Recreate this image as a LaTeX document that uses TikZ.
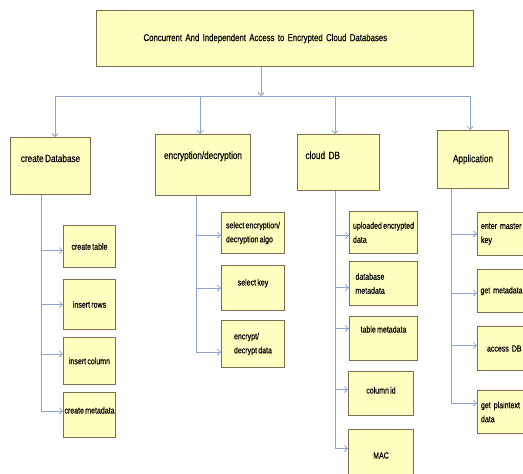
\documentclass[tikz,border=0pt]{standalone}
\usepackage{fontspec}
\usetikzlibrary{arrows.meta}

\newfontfamily\letra[FakeStretch=0.78,FakeBold=0.3,WordSpace=0.65]{Liberation Sans}
\newcommand\letraTitulo{\letra\fontsize{10}{12}\selectfont}
\newcommand\letraCabecera{\letra\fontsize{10.5}{12}\selectfont}
\newcommand\letraHijo{\letra\fontsize{9}{14}\selectfont}

\definecolor{fondoCaja}{RGB}{255,255,192}
\definecolor{bordeCaja}{RGB}{128,108,78}
\definecolor{lineaAzul}{RGB}{140,165,205}

\tikzset{
  caja/.style={draw=bordeCaja, fill=fondoCaja, line width=1pt, anchor=north west,
    inner xsep=3pt, inner ysep=2pt, font=\letraHijo, align=center},
  cabecera/.style={caja, font=\letraCabecera},
  subir/.style={text height=6pt, text depth=#1},
  conector/.style={draw=lineaAzul, line width=0.8pt},
  flecha/.style={conector, -{Straight Barb[length=3pt,width=6pt]}}
}

\begin{document}
\begin{tikzpicture}[x=1pt,y=-1pt]
  \useasboundingbox (0,0) rectangle (523,474);
  \clip (0,0) rectangle (523,474);

  % titulo
  \node[caja, font=\letraTitulo, minimum width=377pt, minimum height=56pt, text width=283pt, align=left] (titulo) at (96,10) {Concurrent And Independent Access to Encrypted Cloud Databases};

  % segundo nivel
  \node[cabecera, minimum width=80pt, minimum height=57pt, subir=14pt] (createDatabase) at (10,137) {create Database};
  \node[cabecera, minimum width=95pt, minimum height=61pt, subir=18pt] (encryptionDecryption) at (155,134) {encryption/decryption};
  \node[cabecera, minimum width=82pt, minimum height=56pt, text width=66pt, align=left, subir=13pt] (cloudDB) at (297,134) {cloud DB};
  \node[cabecera, minimum width=71pt, minimum height=58pt] (application) at (437,130) {Application};

  % create Database
  \node[caja, minimum width=52pt, minimum height=42pt] (createTable) at (63,225) {create table};
  \node[caja, minimum width=52pt, minimum height=50pt] (insertRows) at (63,279) {insert rows};
  \node[caja, minimum width=52pt, minimum height=47pt] (insertColumn) at (63,337) {insert column};
  \node[caja, minimum width=52pt, minimum height=45pt, inner xsep=0pt, subir=9pt] (createMetadata) at (63,392) {create metadata};

  % encryption/decryption
  \node[caja, minimum width=63pt, minimum height=41pt, align=left] (selectAlgo) at (221,212) {select encryption/\\decryption algo};
  \node[caja, minimum width=63pt, minimum height=45pt, subir=11pt] (selectKey) at (221,265) {select key};
  \node[caja, minimum width=63pt, minimum height=47pt, align=left] (encryptDecrypt) at (221,320) {encrypt/\\decrypt data};

  % cloud DB
  \node[caja, minimum width=68pt, minimum height=42pt, align=left] (uploadedData) at (349,211) {uploaded encrypted\\data};
  \node[caja, minimum width=68pt, minimum height=44pt, text width=56pt, align=left] (databaseMetadata) at (349,261) {database\\metadata};
  \node[caja, minimum width=68pt, minimum height=44pt, subir=18pt] (tableMetadata) at (349,316) {table metadata};
  \node[caja, minimum width=65pt, minimum height=44pt, subir=6pt] (columnId) at (348,371) {column id};
  \node[caja, minimum width=65pt, minimum height=52pt] (mac) at (348,429) {MAC};

  % Application
  \node[caja, minimum width=60pt, minimum height=43pt, text width=53pt, align=left] (enterKey) at (477,212) {enter master\\key};
  \node[caja, minimum width=60pt, minimum height=43pt, text width=54pt, align=left] (getMetadata) at (477,269) {get metadata};
  \node[caja, minimum width=60pt, minimum height=44pt, text width=53pt, align=left] (accessDB) at (477,326) {\hspace{6pt}access DB};
  \node[caja, minimum width=60pt, minimum height=43pt, text width=53pt, align=left] (getPlaintext) at (477,390) {get plaintext\\data};

  % bus
  \coordinate (bus) at (261,96);
  \coordinate (busA) at (55,96);
  \coordinate (busB) at (200,96);
  \coordinate (busC) at (335,96);
  \coordinate (busD) at (470,96);
  \draw[flecha] (titulo.south -| bus) -- (bus);
  \draw[conector] (busA) -- (busD);
  \draw[flecha] (busA) -- (busA |- createDatabase.north);
  \draw[flecha] (busB) -- (busB |- encryptionDecryption.north);
  \draw[flecha] (busC) -- (busC |- cloudDB.north);
  \draw[flecha] (busD) -- (busD |- application.north);

  % troncos
  \coordinate (troncoA) at (41,0);
  \coordinate (troncoB) at (196,0);
  \coordinate (troncoC) at (335,0);
  \coordinate (troncoD) at (451,0);

  \draw[flecha] (createDatabase.south -| troncoA) |- ([yshift=-4pt]createTable.west);
  \draw[flecha] (createDatabase.south -| troncoA) |- (insertRows.west);
  \draw[flecha] (createDatabase.south -| troncoA) |- ([yshift=7pt]insertColumn.west);
  \draw[flecha] (createDatabase.south -| troncoA) |- ([yshift=4pt]createMetadata.west);

  \draw[flecha] (encryptionDecryption.south -| troncoB) |- ([yshift=-2pt]selectAlgo.west);
  \draw[flecha] (encryptionDecryption.south -| troncoB) |- (selectKey.west);
  \draw[flecha] (encryptionDecryption.south -| troncoB) |- ([yshift=-8pt]encryptDecrypt.west);

  \draw[flecha] (cloudDB.south -| troncoC) |- ([yshift=-3pt]uploadedData.west);
  \draw[flecha] (cloudDB.south -| troncoC) |- ([yshift=-4pt]databaseMetadata.west);
  \draw[flecha] (cloudDB.south -| troncoC) |- ([yshift=10pt]tableMetadata.west);
  \draw[flecha] (cloudDB.south -| troncoC) |- ([yshift=4pt]columnId.west);
  \draw[flecha] (cloudDB.south -| troncoC) |- ([yshift=7pt]mac.west);

  \draw[flecha] (application.south -| troncoD) |- (enterKey.west);
  \draw[flecha] (application.south -| troncoD) |- ([yshift=-2pt]getMetadata.west);
  \draw[flecha] (application.south -| troncoD) |- ([yshift=3pt]accessDB.west);
  \draw[flecha] (application.south -| troncoD) |- ([yshift=9pt]getPlaintext.west);
\end{tikzpicture}
\end{document}
